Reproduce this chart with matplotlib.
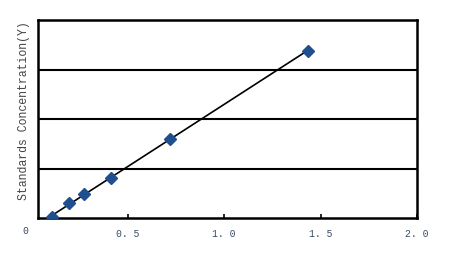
import numpy as np
import matplotlib
matplotlib.use("Agg")
import matplotlib.pyplot as plt

# standards: optical density (X) vs concentration (Y, arbitrary grid units)
od = [0.106, 0.194, 0.272, 0.412, 0.718, 1.433]
conc = [0.02, 0.30, 0.48, 0.80, 1.60, 3.38]
xticks = [0.5, 1.0, 1.5, 2.0]
xtick_labels = ["0. 5", "1. 0", "1. 5", "2. 0"]
ygrid = [1, 2, 3]

fig = plt.figure(figsize=(4.68, 2.56), dpi=100)
ax = fig.add_axes([38 / 468, 1 - 218 / 256, (417 - 38) / 468, (218 - 20) / 256])

k, b = np.polyfit(od, conc, 1)
xs = np.array([min(od), max(od)])
ax.plot(xs, k * xs + b, color="black", lw=1.2, zorder=2)
ax.plot(od, conc, "D", color="#1f4f8f", ms=6.3, mec="#1f4f8f", zorder=3)

for g in ygrid:
    ax.axhline(g, color="black", lw=1.5, zorder=1)

ax.set_xlim(0.034, 2.0)
ax.set_ylim(0, 4)
ax.set_xticks(xticks)
ax.set_xticklabels(xtick_labels, family="Liberation Mono", fontsize=7, color="#3a4a66")
ax.tick_params(axis="x", direction="in", length=3, width=1.2, pad=8)
ax.set_yticks([])
for s in ax.spines.values():
    s.set_linewidth(1.8)
    s.set_color("black")

ax.set_ylabel("Standards Concentration(Y)", family="Liberation Mono", fontsize=8.3,
              color="#444444", labelpad=3)
ax.yaxis.set_label_coords(-0.022, 0.543)
fig.text(25 / 468, 1 - 231 / 256, "0", family="Liberation Mono", fontsize=7,
         color="#3a4a66", ha="center", va="center")

fig.savefig("out.png", dpi=100)
